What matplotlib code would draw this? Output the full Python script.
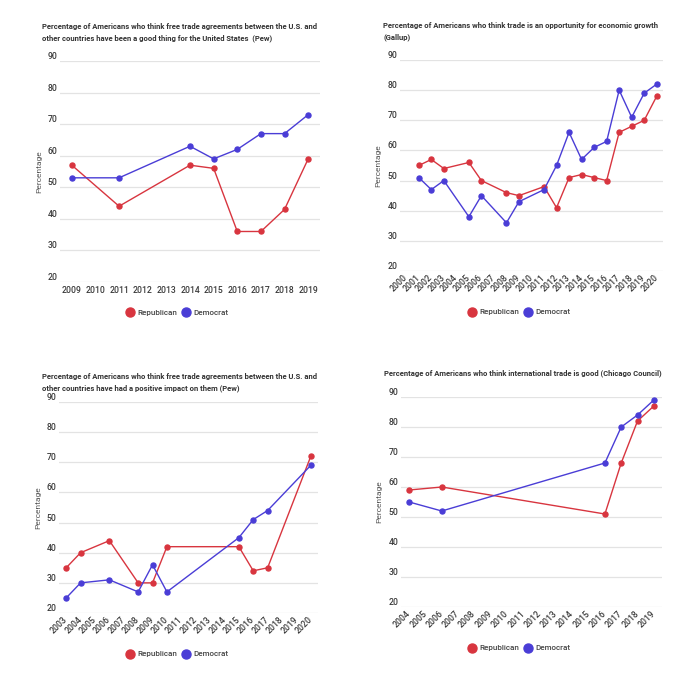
import matplotlib
matplotlib.use("Agg")
import matplotlib.pyplot as plt
from matplotlib.lines import Line2D

plt.rcParams['font.family'] = ['Roboto', 'DejaVu Sans']

RED = '#d8353f'
BLUE = '#4a3dd6'

# ---- Panel 1: Pew, good thing for the US ----
p1_title = "Percentage of Americans who think free trade agreements between the U.S. and\nother countries have been a good thing for the United States  (Pew)"
p1_cats = [2009, 2010, 2011, 2012, 2013, 2014, 2015, 2016, 2017, 2018, 2019]
p1_rep_years = [2009, 2011, 2014, 2015, 2016, 2017, 2018, 2019]
p1_rep_vals = [57, 44, 57, 56, 36, 36, 43, 59]
p1_dem_years = [2009, 2011, 2014, 2015, 2016, 2017, 2018, 2019]
p1_dem_vals = [53, 53, 63, 59, 62, 67, 67, 73]

# ---- Panel 2: Gallup ----
p2_title = "Percentage of Americans who think trade is an opportunity for economic growth\n(Gallup)"
p2_cats = list(range(2000, 2021))
p2_rep_years = [2001, 2002, 2003, 2005, 2006, 2008, 2009, 2011, 2012, 2013, 2014, 2015, 2016, 2017, 2018, 2019, 2020]
p2_rep_vals = [55, 57, 54, 56, 50, 46, 45, 48, 41, 51, 52, 51, 50, 66, 68, 70, 78]
p2_dem_years = [2001, 2002, 2003, 2005, 2006, 2008, 2009, 2011, 2012, 2013, 2014, 2015, 2016, 2017, 2018, 2019, 2020]
p2_dem_vals = [51, 47, 50, 38, 45, 36, 43, 47, 55, 66, 57, 61, 63, 80, 71, 79, 82]

# ---- Panel 3: Pew, positive impact on them ----
p3_title = "Percentage of Americans who think free trade agreements between the U.S. and\nother countries have had a positive impact on them (Pew)"
p3_cats = list(range(2003, 2021))
p3_rep_years = [2003, 2004, 2006, 2008, 2009, 2010, 2015, 2016, 2017, 2020]
p3_rep_vals = [35, 40, 44, 30, 30, 42, 42, 34, 35, 72]
p3_dem_years = [2003, 2004, 2006, 2008, 2009, 2010, 2015, 2016, 2017, 2020]
p3_dem_vals = [25, 30, 31, 27, 36, 27, 45, 51, 54, 69]

# ---- Panel 4: Chicago Council ----
p4_title = "Percentage of Americans who think international trade is good (Chicago Council)"
p4_cats = list(range(2004, 2020))
p4_rep_years = [2004, 2006, 2016, 2017, 2018, 2019]
p4_rep_vals = [59, 60, 51, 68, 82, 87]
p4_dem_years = [2004, 2006, 2016, 2017, 2018, 2019]
p4_dem_vals = [55, 52, 68, 80, 84, 89]

y_ticks = [20, 30, 40, 50, 60, 70, 80, 90]
series_labels = ['Republican', 'Democrat']

W = H = 700
fig = plt.figure(figsize=(7, 7), dpi=100)
fig.patch.set_facecolor('white')

TICK_FS = 6.2
TICK_C = '#3a3a3a'


def px_axes(l, r, t, b):
    return fig.add_axes([l / W, 1 - b / H, (r - l) / W, (b - t) / H])


def panel(rect, title, title_xy, cats, rep_years, rep_vals, dem_years, dem_vals,
          rotate, legend_xy):
    ax = px_axes(*rect)
    idx = {c: i for i, c in enumerate(cats)}
    n = len(cats)
    ax.set_xlim(-0.5, n - 0.5)
    ax.set_ylim(20, 90)
    ax.set_yticks(y_ticks)
    ax.set_yticklabels([str(v) for v in y_ticks])
    ax.tick_params(axis='y', length=0, pad=9, labelsize=TICK_FS, labelcolor=TICK_C)
    for lbl in ax.get_yticklabels():
        lbl.set_ha('left')
        lbl.set_va('bottom')
        lbl.set_fontweight('medium')
    ax.set_xticks(range(n))
    if rotate:
        ax.set_xticklabels([str(c) for c in cats], rotation=45, ha='right',
                           va='center', rotation_mode='anchor')
        ax.tick_params(axis='x', length=0, pad=4, labelsize=TICK_FS, labelcolor=TICK_C)
    else:
        ax.set_xticklabels([str(c) for c in cats])
        ax.tick_params(axis='x', length=0, pad=3, labelsize=TICK_FS, labelcolor=TICK_C)
    for lbl in ax.get_xticklabels():
        lbl.set_fontweight('medium')
    ax.grid(axis='y', color='#e3e3e3', linewidth=0.9)
    ax.set_axisbelow(True)
    for s in ax.spines.values():
        s.set_visible(False)
    ax.set_ylabel('Percentage', fontsize=6.0, color='#555555')
    ax.yaxis.set_label_coords(-0.07, 0.5)

    ax.plot([idx[y] for y in rep_years], rep_vals, color=RED, lw=1.0, marker='o',
            ms=3.6, mec=RED, mfc=RED, zorder=3, clip_on=False)
    ax.plot([idx[y] for y in dem_years], dem_vals, color=BLUE, lw=1.0, marker='o',
            ms=3.6, mec=BLUE, mfc=BLUE, zorder=3, clip_on=False)

    fig.text(title_xy[0] / W, 1 - title_xy[1] / H, title, fontsize=5.5,
             fontweight='bold', color='#333333', ha='left', va='top', linespacing=1.65)

    handles = [Line2D([], [], ls='none', marker='o', ms=6.5, mfc=RED, mec=RED),
               Line2D([], [], ls='none', marker='o', ms=6.5, mfc=BLUE, mec=BLUE)]
    leg = ax.legend(handles, series_labels, loc='center',
                    bbox_to_anchor=(legend_xy[0] / W, 1 - legend_xy[1] / H),
                    bbox_transform=fig.transFigure, ncol=2, frameon=False,
                    fontsize=5.8, handlelength=1.0, handletextpad=0.4,
                    columnspacing=0.6, borderpad=0)
    for t in leg.get_texts():
        t.set_color('#444444')
        t.set_fontweight('medium')
    return ax


panel((60, 320, 61, 282), p1_title, (42, 23), p1_cats, p1_rep_years, p1_rep_vals,
      p1_dem_years, p1_dem_vals, False, (177, 313))
panel((400, 663, 60, 271), p2_title, (383, 22), p2_cats, p2_rep_years, p2_rep_vals,
      p2_dem_years, p2_dem_vals, True, (519, 312))
panel((59, 318, 402, 613), p3_title, (42, 373), p3_cats, p3_rep_years, p3_rep_vals,
      p3_dem_years, p3_dem_vals, True, (177, 654))
panel((401, 662, 397, 607), p4_title, (384, 369), p4_cats, p4_rep_years, p4_rep_vals,
      p4_dem_years, p4_dem_vals, True, (519, 648))

fig.savefig('out.png', dpi=100, facecolor='white')
